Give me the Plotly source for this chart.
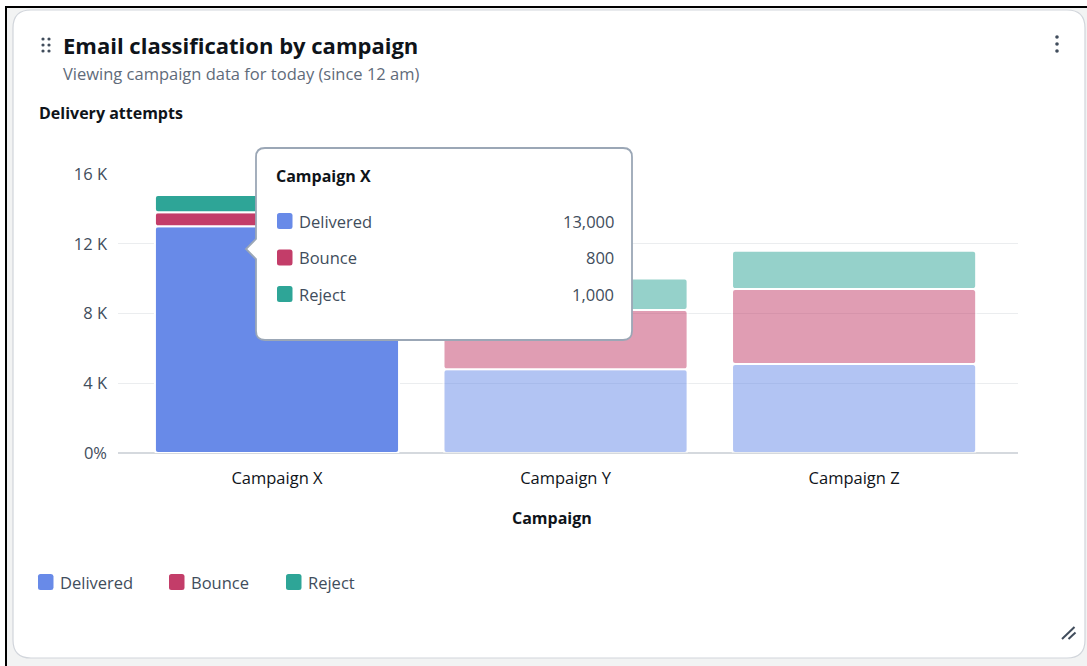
import plotly.graph_objects as go

# ---- data -------------------------------------------------------------
campaigns = ["Campaign X", "Campaign Y", "Campaign Z"]
delivered = [13000, 4800, 5100]
bounce = [800, 3400, 4300]
reject = [1000, 1800, 2200]

series_names = ["Delivered", "Bounce", "Reject"]
series_colors = ["#688ae8", "#c33d69", "#2ea597"]

y_tick_values = [0, 4000, 8000, 12000, 16000]
y_tick_labels = ["0%", "4 K", "8 K", "12 K", "16 K"]

highlighted = "Campaign X"

# ---- page geometry (pixels) -------------------------------------------
W, H = 1087, 666
L, R, T, B = 118, 1018, 174, 453   # plot area edges

FONT = "Open Sans"
DARK = "#0f141a"
MID = "#414d5c"
SOFT = "#5f6b7a"
REG = 16.5   # regular body text size
BOLD = 16    # bold label size


def px(x):
    return (x - L) / (R - L)


def py(y):
    return (B - y) / (B - T)


def pt(x, y):
    return f"{px(x):.5f},{py(y):.5f}"


def rounded_rect(x0, y0, x1, y1, r):
    return (
        f"M{pt(x0 + r, y0)} L{pt(x1 - r, y0)} Q{pt(x1, y0)} {pt(x1, y0 + r)} "
        f"L{pt(x1, y1 - r)} Q{pt(x1, y1)} {pt(x1 - r, y1)} "
        f"L{pt(x0 + r, y1)} Q{pt(x0, y1)} {pt(x0, y1 - r)} "
        f"L{pt(x0, y0 + r)} Q{pt(x0, y0)} {pt(x0 + r, y0)} Z"
    )


def tooltip_path(x0, y0, x1, y1, r, tip_y, tip_depth, tip_half):
    return (
        f"M{pt(x0 + r, y0)} L{pt(x1 - r, y0)} Q{pt(x1, y0)} {pt(x1, y0 + r)} "
        f"L{pt(x1, y1 - r)} Q{pt(x1, y1)} {pt(x1 - r, y1)} "
        f"L{pt(x0 + r, y1)} Q{pt(x0, y1)} {pt(x0, y1 - r)} "
        f"L{pt(x0, tip_y + tip_half)} L{pt(x0 - tip_depth, tip_y)} "
        f"L{pt(x0, tip_y - tip_half)} "
        f"L{pt(x0, y0 + r)} Q{pt(x0, y0)} {pt(x0 + r, y0)} Z"
    )


def circle(cx, cy, r, color):
    return dict(type="circle", xref="paper", yref="paper",
                x0=px(cx - r), x1=px(cx + r), y0=py(cy + r), y1=py(cy - r),
                fillcolor=color, line=dict(width=0), layer="above")


def text(x, y, s, size=REG, color=DARK, bold=False, xanchor="left"):
    return dict(xref="paper", yref="paper", x=px(x), y=py(y),
                xanchor=xanchor, yanchor="middle", showarrow=False,
                text=f"<b>{s}</b>" if bold else s, borderpad=0,
                font=dict(family=FONT, size=size, color=color))


# ---- bars (stacked by explicit bases so every segment gets its corners) --
values = [delivered, bounce, reject]
opacity = [1.0 if c == highlighted else 0.5 for c in campaigns]

fig = go.Figure()
base = [0] * len(campaigns)
for name, vals, color in zip(series_names, values, series_colors):
    fig.add_trace(go.Bar(
        x=campaigns, y=vals, base=list(base), name=name, width=0.846,
        marker=dict(color=color, opacity=opacity,
                    line=dict(color="white", width=2)),
        hoverinfo="skip", showlegend=False,
    ))
    base = [b + v for b, v in zip(base, vals)]

shapes = []
# outer frame and card
shapes.append(dict(type="rect", xref="paper", yref="paper",
                   x0=px(6), x1=px(1095), y0=py(7), y1=py(675),
                   fillcolor="#f2f3f3", line=dict(color="#000000", width=2),
                   layer="below"))
shapes.append(dict(type="path", xref="paper", yref="paper",
                   path=rounded_rect(13, 10, 1085, 658, 18),
                   fillcolor="#ffffff", line=dict(color="#d1d5db", width=1.2),
                   layer="below"))

# drag handle and menu dots
for cx in (43, 49):
    for cy in (39, 45, 51):
        shapes.append(circle(cx, cy, 1.6, MID))
for cy in (37, 44, 51):
    shapes.append(circle(1057, cy, 1.8, MID))

# resize grip
shapes.append(dict(type="line", xref="paper", yref="paper",
                   x0=px(1062), y0=py(639), x1=px(1074.5), y1=py(627),
                   line=dict(color=MID, width=2), layer="above"))
shapes.append(dict(type="line", xref="paper", yref="paper",
                   x0=px(1068.5), y0=py(639), x1=px(1075.5), y1=py(632.5),
                   line=dict(color=MID, width=2), layer="above"))

annotations = [
    text(62, 45, "Email classification by campaign", size=22, bold=True),
    text(62, 73, "Viewing campaign data for today (since 12 am)", color=SOFT),
    text(38, 113, "Delivery attempts", size=BOLD, bold=True),
    text(552, 518, "Campaign", size=BOLD, bold=True, xanchor="center"),
]

# legend
legend_x = [38, 169, 286]
for lx, name, color in zip(legend_x, series_names, series_colors):
    shapes.append(dict(type="path", xref="paper", yref="paper",
                       path=rounded_rect(lx, 574, lx + 15.5, 590, 2.5),
                       fillcolor=color, line=dict(width=0), layer="above"))
    annotations.append(text(lx + 21, 582, name, color=MID))

# tooltip for the highlighted campaign
shapes.append(dict(type="path", xref="paper", yref="paper",
                   path=tooltip_path(256, 148, 632, 340, 9, 249, 10, 10),
                   fillcolor="#ffffff", line=dict(color="#9ba7b6", width=1.8),
                   layer="above"))
hi = campaigns.index(highlighted)
annotations.append(text(275, 176, highlighted, size=BOLD, bold=True))
row_y = [221, 257.5, 294]
for ry, name, vals, color in zip(row_y, series_names, values, series_colors):
    shapes.append(dict(type="path", xref="paper", yref="paper",
                       path=rounded_rect(277, ry - 8, 292.5, ry + 8, 2.5),
                       fillcolor=color, line=dict(width=0), layer="above"))
    annotations.append(text(298, ry, name, color=MID))
    annotations.append(text(615, ry, f"{vals[hi]:,}", color=MID,
                            xanchor="right"))

n = len(campaigns)
fig.update_layout(
    width=W, height=H,
    margin=dict(l=L, r=W - R, t=T, b=H - B, pad=0),
    paper_bgcolor="#ffffff", plot_bgcolor="rgba(0,0,0,0)",
    barmode="overlay", barcornerradius=3,
    font=dict(family=FONT, size=REG, color=MID),
    shapes=shapes, annotations=annotations,
    xaxis=dict(type="category", range=[-0.551, n - 1 + 0.568],
               showgrid=False, showline=False, zeroline=False, ticks="",
               ticklabelstandoff=13, tickfont=dict(size=REG, color=DARK)),
    yaxis=dict(range=[0, 16000], tickvals=y_tick_values, ticktext=y_tick_labels,
               showgrid=True, gridcolor="#ebedef", gridwidth=1,
               zeroline=True, zerolinecolor="#d5d9de", zerolinewidth=1.5,
               showline=False, ticks="", ticklabelstandoff=10,
               tickfont=dict(size=REG, color=MID)),
)

fig.write_html("out.html")
